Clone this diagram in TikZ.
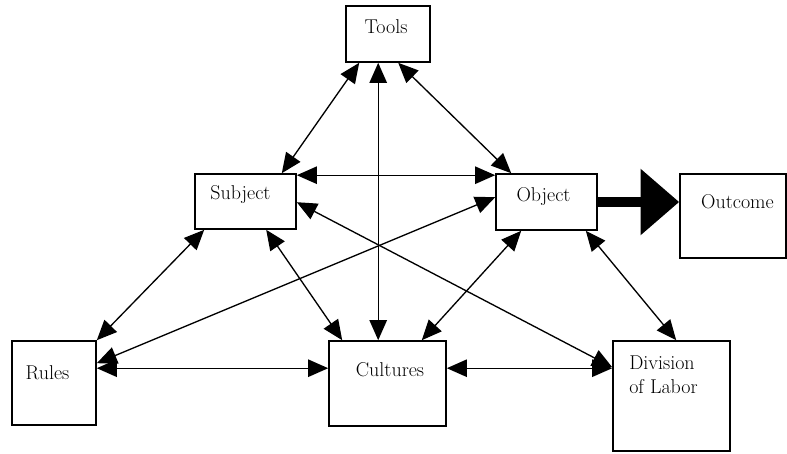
\documentclass[tikz,border=0pt]{standalone}
\usepackage{tikz}
\usetikzlibrary{arrows.meta}

\begin{document}
\begin{tikzpicture}[x=0.75pt,y=-0.75pt,
  box/.style={draw, line width=1.2pt, rectangle, inner sep=0pt},
  lbl/.style={inner sep=0pt, font=\fontsize{15}{17.5}\selectfont},
  link/.style={line width=1pt, {Triangle[length=15pt,width=13pt]}-{Triangle[length=15pt,width=13pt]}},
  flow/.style={line width=7.5pt, -{Triangle[length=29pt,width=48pt]}}]
\useasboundingbox (0,0) rectangle (787,453);

% Boxes
\node [box, minimum width=63pt, minimum height=42pt] (tools) at (388,34) {};
\node [box, minimum width=75.75pt, minimum height=41.25pt] (subject) at (245.5,201.5) {};
\node [box, minimum width=75.75pt, minimum height=42pt] (object) at (546.5,202) {};
\node [box, minimum width=79.5pt, minimum height=63pt] (outcome) at (733,216) {};
\node [box, minimum width=63pt, minimum height=63pt] (rules) at (54,383) {};
\node [box, minimum width=87.75pt, minimum height=63.75pt] (cultures) at (387.5,383.5) {};
\node [box, minimum width=87.75pt, minimum height=82.5pt] (division) at (671.5,396) {};

% Text Nodes
\node [lbl, anchor=base] (toolstxt) at ([shift={(-2,0)}]tools.center) {Tools};
\node [lbl, anchor=base] (subjecttxt) at ([shift={(-5,-2)}]subject.center) {Subject};
\node [lbl, anchor=base] (objecttxt) at ([shift={(-3,-1)}]object.center) {Object};
\node [lbl, anchor=base] (outcometxt) at ([shift={(4.5,-8)}]outcome.center) {Outcome};
\node [lbl, anchor=base] (rulestxt) at ([shift={(-6.5,-4)}]rules.center) {Rules};
\node [lbl, anchor=base] (culturestxt) at ([shift={(2.5,-7.5)}]cultures.center) {Cultures};
\node [lbl, anchor=north west, align=left] (divisiontxt) at ([shift={(-42.5,-40)}]division.center) {Division\\of Labor};

% Straight Lines
\draw [link] ([xshift=10.5pt]tools.south west) -- ([xshift=-11.25pt]subject.north east);
\draw [link] ([xshift=24.75pt]tools.south west) -- ([xshift=37.5pt]cultures.north west);
\draw [link] ([xshift=39.75pt]tools.south west) -- ([xshift=12pt]object.north west);
\draw [link] ([yshift=-1.5pt]subject.north east) -- ([yshift=-1.5pt]object.north west);
\draw [link] ([yshift=-21.75pt]subject.north east) -- ([yshift=-20.25pt]division.north west);
\draw [link] ([yshift=-18pt]object.north west) -- ([yshift=-17.25pt]rules.north east);
\draw [link] ([yshift=-21pt]rules.north east) -- ([yshift=-21pt]cultures.north west);
\draw [link] ([yshift=-21pt]cultures.north east) -- ([yshift=-21pt]division.north west);
\draw [link] ([xshift=7.5pt]subject.south west) -- (rules.north east);
\draw [link] ([xshift=54pt]subject.south west) -- ([xshift=10.5pt]cultures.north west);
\draw [link] ([xshift=19.5pt]object.south west) -- ([xshift=-18.75pt]cultures.north east);
\draw [link] ([xshift=-9pt]object.south east) -- ([xshift=48pt]division.north west);

% Thick Arrow
\draw [flow] (object.east) -- (object.east -| outcome.west);

\end{tikzpicture}
\end{document}
